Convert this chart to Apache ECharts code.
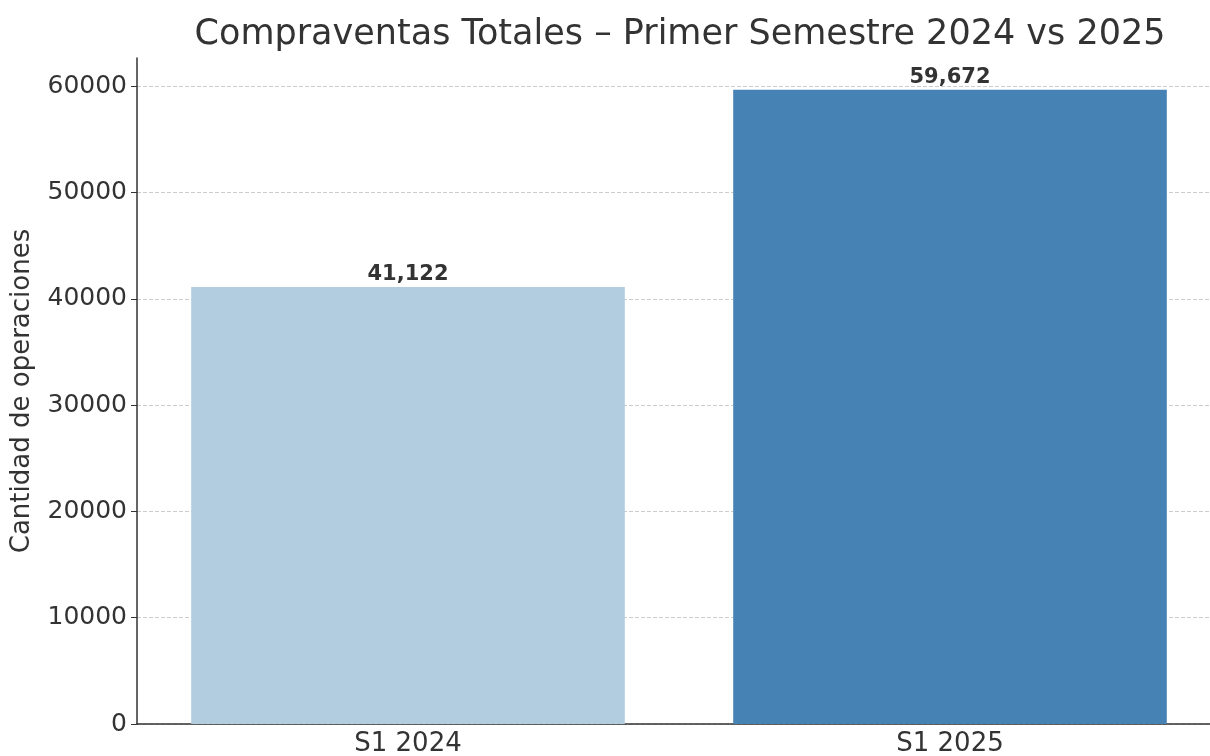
<!DOCTYPE html>
<html style="height: 100%">
<head>
    <meta charset="utf-8">
    <script src="https://cdn.jsdelivr.net/npm/echarts@6/dist/echarts.min.js"></script>
    <style>
        body { margin: 0; background: #fff; }
        #container { width: 1210px; height: 756px; }
    </style>
</head>
<body>
<div id="container"></div>
<script type="text/javascript">
    // periodos
    var categories = ['S1 2024', 'S1 2025'];
    // compraventas totales
    var values = [41122, 59672];
    var barColors = ['#b3cde0', '#4682b4'];
    var yTicks = [0, 10000, 20000, 30000, 40000, 50000, 60000];

    var myChart = echarts.init(document.getElementById('container'));
    var font = 'DejaVu Sans';

    var option = {
        animation: false,
        title: {
            text: 'Compraventas Totales – Primer Semestre 2024 vs 2025',
            left: 675,
            textAlign: 'center',
            top: 12,
            textStyle: { fontFamily: font, fontSize: 35, fontWeight: 'normal', color: '#333' }
        },
        grid: { left: 137, top: 58, width: 1084, height: 666, outerBoundsMode: 'none', containLabel: false },
        xAxis: {
            type: 'category',
            data: categories,
            axisLine: { lineStyle: { color: '#333', width: 1.5 } },
            axisTick: { alignWithLabel: true, length: 6, lineStyle: { color: '#333' } },
            axisLabel: { fontFamily: font, fontSize: 26, color: '#333', margin: 7 },
            splitLine: { show: false }
        },
        yAxis: {
            type: 'value',
            min: 0,
            max: 62656,
            interval: 10000,
            name: 'Cantidad de operaciones',
            nameLocation: 'middle',
            nameGap: 102,
            nameTextStyle: { fontFamily: font, fontSize: 26, color: '#333' },
            axisLine: { show: true, lineStyle: { color: '#333', width: 1.5 } },
            axisTick: { show: true, length: 6, lineStyle: { color: '#333' } },
            axisLabel: {
                fontFamily: font, fontSize: 25, color: '#333', margin: 10,
                showMaxLabel: false,
                formatter: function (v) { return yTicks.indexOf(v) >= 0 ? String(v) : ''; }
            },
            splitLine: { show: true, showMaxLine: false, lineStyle: { color: '#cccccc', type: 'dashed', width: 1 } }
        },
        series: [{
            type: 'bar',
            barCategoryGap: '20%',
            data: values.map(function (v, i) {
                return { value: v, itemStyle: { color: barColors[i] } };
            }),
            label: {
                show: true,
                position: 'top',
                distance: 2,
                fontFamily: font,
                fontSize: 21,
                fontWeight: 'bold',
                color: '#333',
                formatter: function (p) { return p.value.toLocaleString('en-US'); }
            }
        }]
    };
    myChart.setOption(option, true);
</script>
</body>
</html>
